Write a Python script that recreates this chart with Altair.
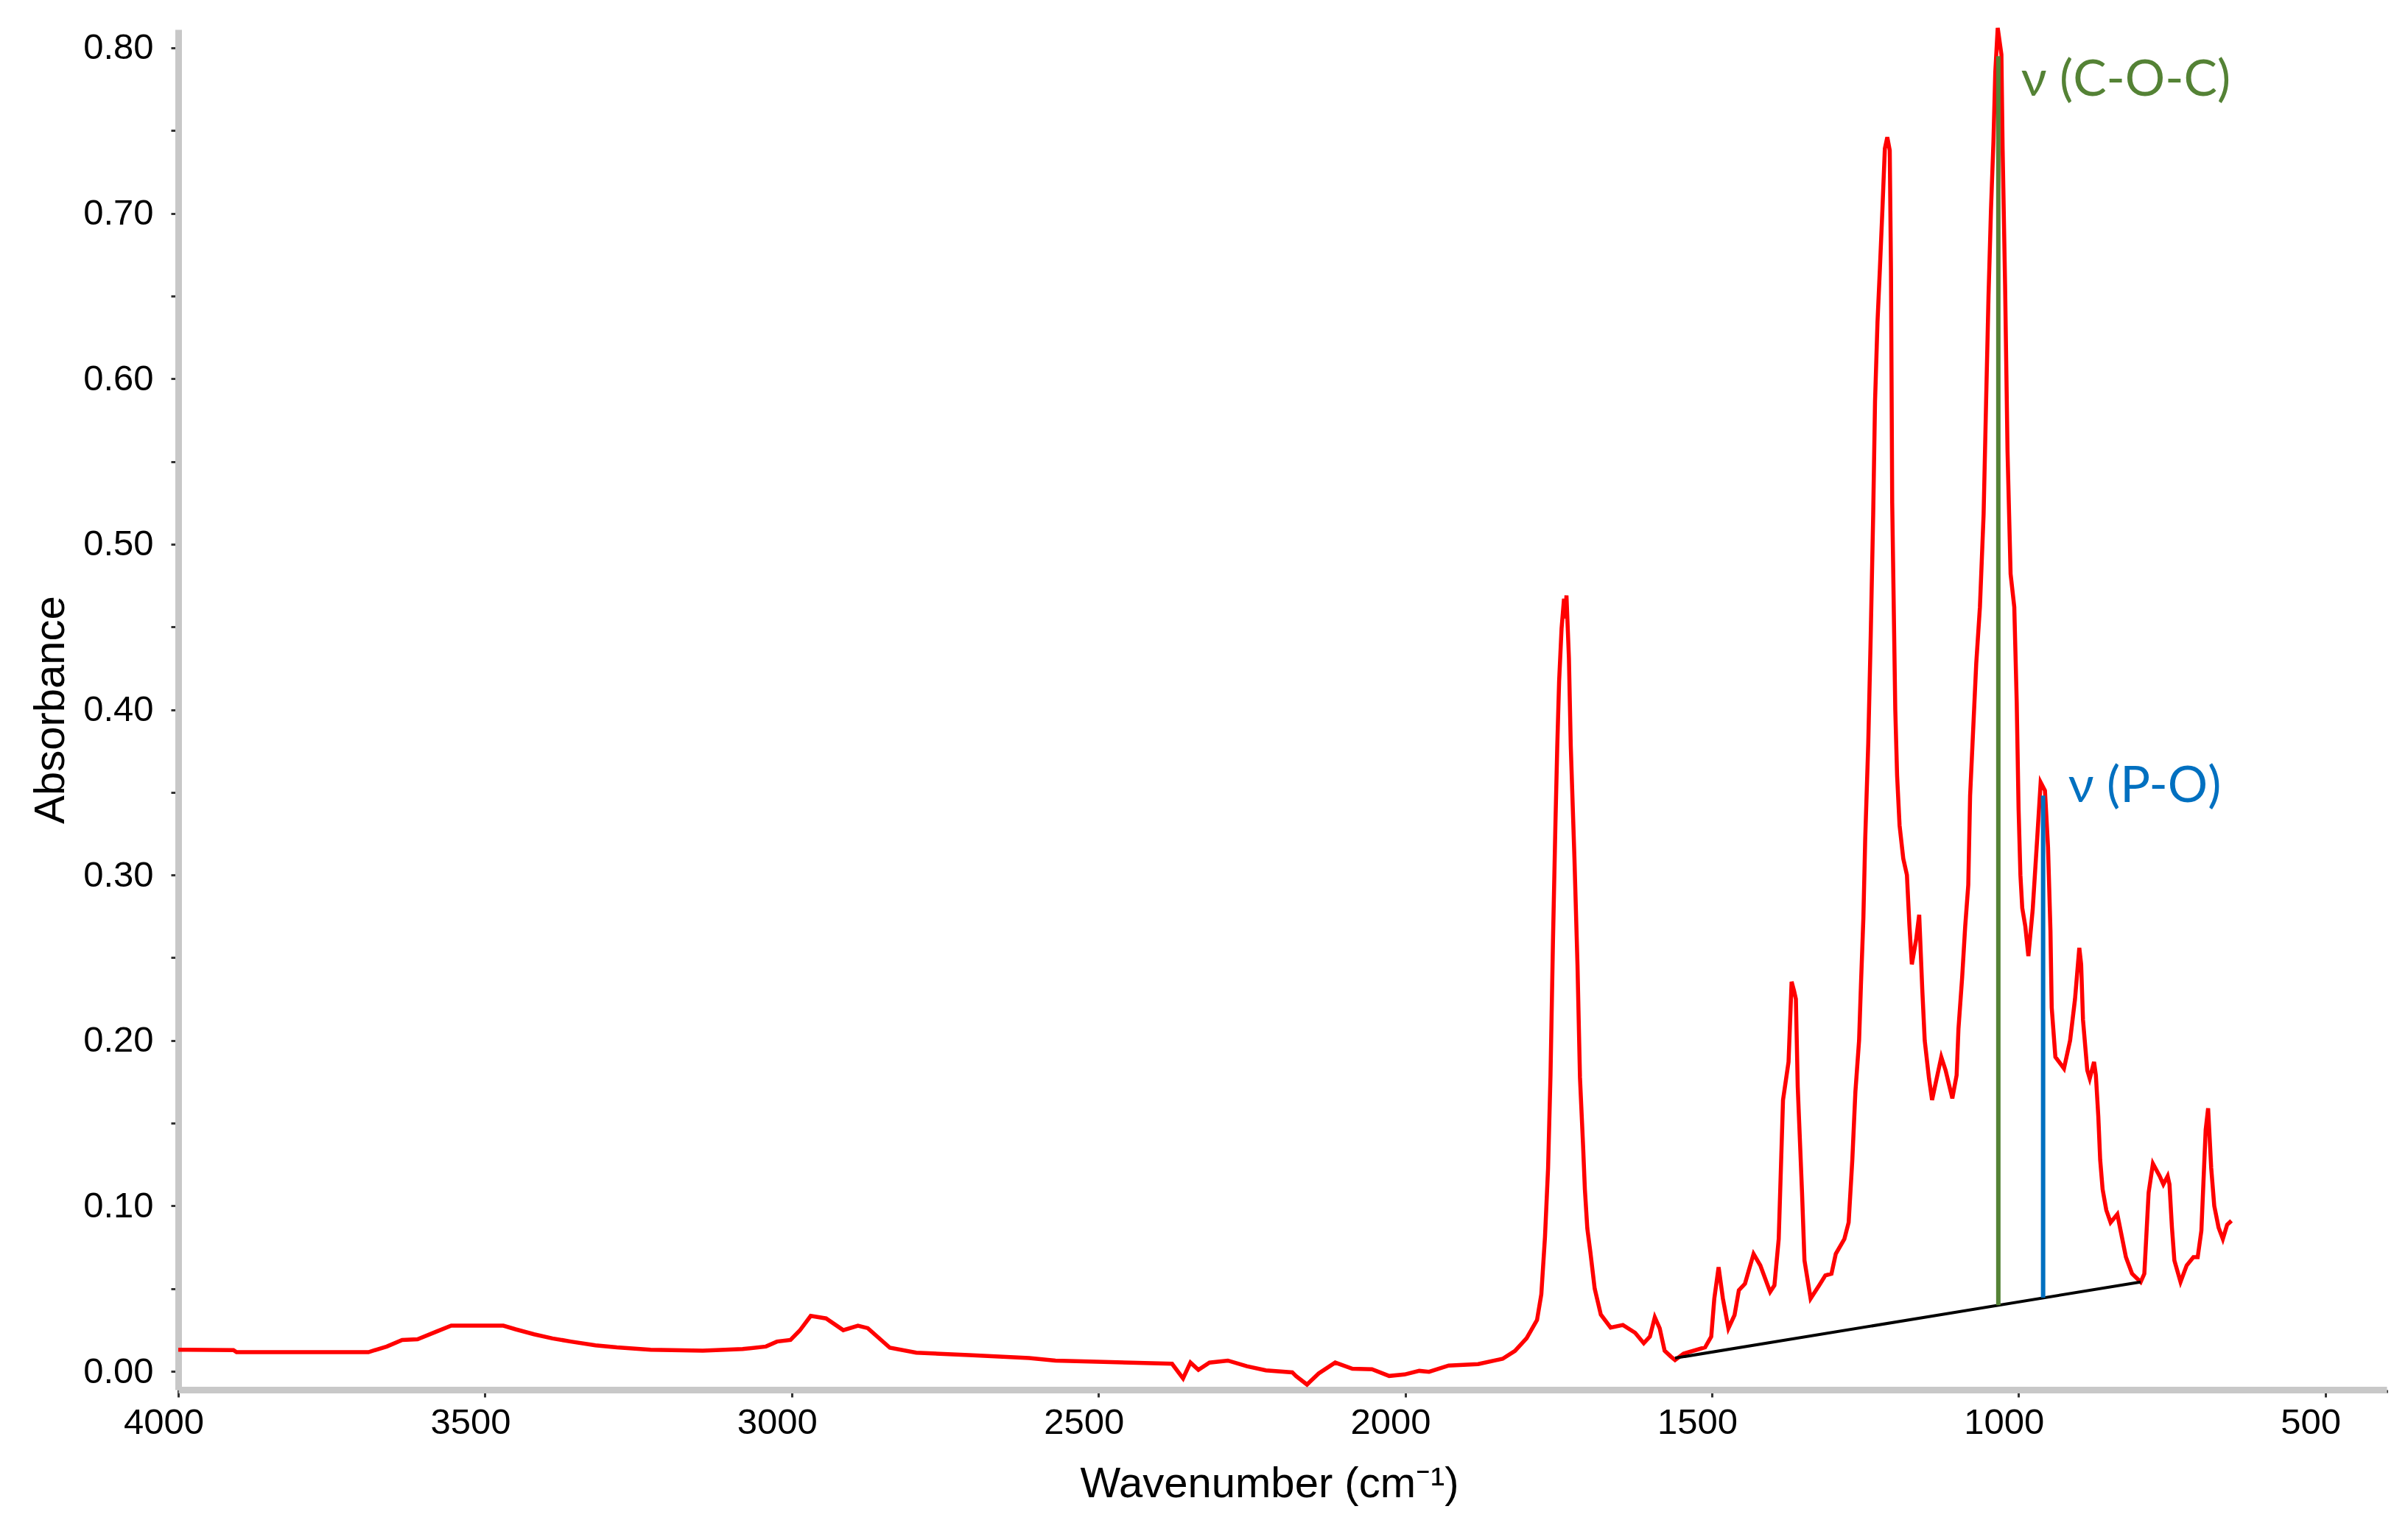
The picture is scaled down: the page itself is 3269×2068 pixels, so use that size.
import altair as alt
import pandas as pd

# ---- spectrum (wavenumber, absorbance) ----
wavenumber = [4000, 3910, 3905, 3690, 3660, 3635, 3610, 3580, 3555, 3470, 3450, 3420, 3390, 3360,
              3320, 3285, 3230, 3145, 3080, 3042, 3024, 3002, 2987, 2969, 2944, 2916, 2892, 2876,
              2840, 2797, 2711, 2613, 2570, 2448, 2380, 2362, 2350, 2337, 2319, 2289, 2258, 2227,
              2184, 2178, 2160, 2141, 2114, 2086, 2054, 2026, 2001, 1977, 1961, 1929, 1881, 1841,
              1821, 1802, 1785, 1778, 1772, 1767, 1763, 1759, 1755, 1752, 1749, 1745, 1741, 1739,
              1737, 1733, 1730, 1724, 1719, 1715, 1710, 1707, 1703, 1698, 1691, 1681, 1665, 1645,
              1625, 1611, 1601, 1593, 1585, 1577, 1567, 1560, 1546, 1511, 1501, 1496, 1489, 1482,
              1473, 1463, 1456, 1446, 1432, 1421, 1405, 1398, 1391, 1384, 1375, 1370, 1366, 1363,
              1360, 1353, 1349, 1339, 1325, 1315, 1305, 1298, 1284, 1277, 1271, 1266, 1260, 1257,
              1253, 1250, 1245, 1241, 1237, 1234, 1230, 1226, 1222, 1218, 1214, 1210, 1208, 1206,
              1201, 1198, 1194, 1188, 1182, 1178, 1174, 1167, 1162, 1157, 1153, 1146, 1141, 1126,
              1119, 1108, 1101, 1098, 1092, 1087, 1082, 1079, 1075, 1069, 1063, 1057, 1053, 1049,
              1045, 1041, 1038, 1034, 1028, 1026, 1022, 1018, 1013, 1007, 1003, 1000, 997, 994,
              989, 984, 977, 970, 964, 957, 952, 948, 946, 940, 926, 916, 908, 901, 898, 895, 888,
              884, 877, 874, 870, 867, 863, 857, 850, 839, 832, 825, 815, 801, 795, 788, 781, 770,
              764, 757, 754, 750, 746, 736, 726, 715, 708, 702, 695, 691, 686, 681, 674, 667, 660,
              653]
absorbance = [0.0131, 0.0128, 0.0116, 0.0116, 0.0150, 0.0190, 0.0194, 0.0239, 0.0276, 0.0276,
              0.0254, 0.0224, 0.0199, 0.0180, 0.0157, 0.0145, 0.0131, 0.0125, 0.0135, 0.0150,
              0.0180, 0.0190, 0.0246, 0.0335, 0.0320, 0.0249, 0.0276, 0.0261, 0.0143, 0.0113,
              0.0098, 0.0080, 0.0065, 0.0053, 0.0046, -0.0043, 0.0053, 0.0009, 0.0053, 0.0065,
              0.0031, 0.0006, -0.0006, -0.0028, -0.0080, -0.0013, 0.0053, 0.0016, 0.0013, -0.0028,
              -0.0019, 0.0003, -0.0003, 0.0035, 0.0044, 0.0076, 0.0123, 0.0200, 0.0310, 0.0466,
              0.0814, 0.1226, 0.1793, 0.2600, 0.3310, 0.3780, 0.4170, 0.4490, 0.4670, 0.4550,
              0.4690, 0.4310, 0.3780, 0.3100, 0.2450, 0.1777, 0.1370, 0.1100, 0.0863, 0.0720,
              0.0500, 0.0343, 0.0264, 0.0280, 0.0233, 0.0170, 0.0210, 0.0327, 0.0260, 0.0125,
              0.0090, 0.0068, 0.0107, 0.0145, 0.0210, 0.0440, 0.0630, 0.0440, 0.0260, 0.0340,
              0.0490, 0.0530, 0.0710, 0.0640, 0.0480, 0.0520, 0.0800, 0.1640, 0.1870, 0.2355,
              0.2300, 0.2250, 0.1720, 0.1080, 0.0670, 0.0440, 0.0520, 0.0580, 0.0590, 0.0710,
              0.0800, 0.0900, 0.1280, 0.1690, 0.2000, 0.2330, 0.2740, 0.3220, 0.3800, 0.4450,
              0.5180, 0.5860, 0.6340, 0.6670, 0.7020, 0.7390, 0.7460, 0.7380, 0.6660, 0.5250,
              0.4000, 0.3600, 0.3300, 0.3100, 0.3000, 0.2700, 0.2460, 0.2610, 0.2760, 0.2310,
              0.2000, 0.1770, 0.1640, 0.1900, 0.1820, 0.1650, 0.1790, 0.2070, 0.2380, 0.2690,
              0.2940, 0.3480, 0.3800, 0.4280, 0.4620, 0.5180, 0.5850, 0.6500, 0.7020, 0.7430,
              0.7850, 0.8120, 0.7960, 0.7390, 0.6570, 0.5560, 0.4820, 0.4620, 0.4040, 0.3400,
              0.3000, 0.2800, 0.2690, 0.2510, 0.2790, 0.3200, 0.3560, 0.3510, 0.3170, 0.2660,
              0.2200, 0.1900, 0.1830, 0.2000, 0.2250, 0.2560, 0.2460, 0.2125, 0.1820, 0.1770,
              0.1870, 0.1790, 0.1540, 0.1280, 0.1100, 0.0975, 0.0900, 0.0950, 0.0820, 0.0690,
              0.0590, 0.0540, 0.0590, 0.1080, 0.1255, 0.1180, 0.1130, 0.1180, 0.1130, 0.0870,
              0.0670, 0.0540, 0.0640, 0.0690, 0.0690, 0.0850, 0.1460, 0.1590, 0.1230, 0.1000,
              0.0870, 0.0800, 0.0886, 0.0910]

# ---- annotations ----
ann_labels = ["ν (C-O-C)", "ν (P-O)"]
ann_colors = ["#548235", "#0070C0"]
ann_wn = [1033, 960]            # position of the marker line
ann_bottom = [0.040, 0.0445]    # where the marker meets the baseline
ann_top = [0.795, 0.348]        # top of the marker line
ann_text_wn = [996, 919]        # label anchor
ann_text_ab = [0.771, 0.344]

baseline_wn = [1560, 801]
baseline_ab = [0.008, 0.054]

# ---- axis tick values ----
x_ticks = list(range(4000, 399, -100))
y_ticks = [round(i * 0.0125, 4) for i in range(0, 65)]

spec = pd.DataFrame({"wn": wavenumber, "ab": absorbance})
ann = pd.DataFrame({"label": ann_labels, "color": ann_colors, "wn": ann_wn,
                    "y0": ann_bottom, "y1": ann_top, "tx": ann_text_wn, "ty": ann_text_ab})
base_df = pd.DataFrame({"x": [baseline_wn[0]], "x2": [baseline_wn[1]],
                        "y": [baseline_ab[0]], "y2": [baseline_ab[1]]})

xscale = alt.Scale(domain=[4000, 400], nice=False, zero=False)
yscale = alt.Scale(domain=[-0.0111, 0.8111], nice=False, zero=False)

FONT = "Liberation Sans"

x_axis = alt.Axis(
    values=x_ticks, format="d",
    labelExpr="datum.value % 500 === 0 ? datum.label : ''",
    tickSize={"condition": {"test": "datum.value % 500 === 0", "value": 10}, "value": 4},
    tickWidth=3,
    tickColor="#333333", domainColor="#c8c8c8", domainWidth=9, grid=False,
    labelFont=FONT, labelFontSize=49, labelColor="black", labelPadding=10, labelOffset=-20,
    labelFlush=False, labelOverlap=False,
    title="Wavenumber (cm⁻¹)", titleFont=FONT, titleFontSize=58, titleFontWeight="normal",
    titleColor="black", titlePadding=30, titleX=1481,
)
y_axis = alt.Axis(
    values=y_ticks,
    labelExpr="abs(datum.value*10 - round(datum.value*10)) < 0.001 ? format(datum.value, '.2f') : ''",
    tickSize={"condition": {"test": "abs(datum.value*20 - round(datum.value*20)) < 0.001", "value": 10},
              "value": 4},
    tickWidth=3,
    tickColor="#333333", domainColor="#c8c8c8", domainWidth=9, grid=False,
    labelFont=FONT, labelFontSize=49, labelColor="black", labelPadding=24,
    labelFlush=False, labelOverlap=False,
    title="Absorbance", titleFont=FONT, titleFontSize=58, titleFontWeight="normal",
    titleColor="black", titlePadding=14,
)

line = alt.Chart(spec).mark_line(color="#FF0000", strokeWidth=5.5, strokeJoin="miter").encode(
    x=alt.X("wn:Q", scale=xscale, axis=x_axis),
    y=alt.Y("ab:Q", scale=yscale, axis=y_axis),
)

baseline = alt.Chart(base_df).mark_rule(color="black", strokeWidth=4).encode(
    x=alt.X("x:Q", scale=xscale), x2="x2:Q",
    y=alt.Y("y:Q", scale=yscale), y2="y2:Q",
)

markers = alt.Chart(ann).mark_rule(strokeWidth=6).encode(
    x=alt.X("wn:Q", scale=xscale),
    y=alt.Y("y0:Q", scale=yscale), y2="y1:Q",
    color=alt.Color("color:N", scale=None),
)

texts = alt.Chart(ann).mark_text(align="left", baseline="alphabetic", font="Lato",
                                 fontSize=68).encode(
    x=alt.X("tx:Q", scale=xscale),
    y=alt.Y("ty:Q", scale=yscale),
    text="label:N",
    color=alt.Color("color:N", scale=None),
)

chart = alt.layer(line, baseline, markers, texts).properties(
    width=2998, height=1847,
    autosize=alt.AutoSizeParams(type="none"),
    padding={"left": 234, "top": 32, "right": 20, "bottom": 170},
    background="white",
).configure_view(stroke=None)

chart.save("out.html", embed_options={"renderer": "svg", "actions": False})
